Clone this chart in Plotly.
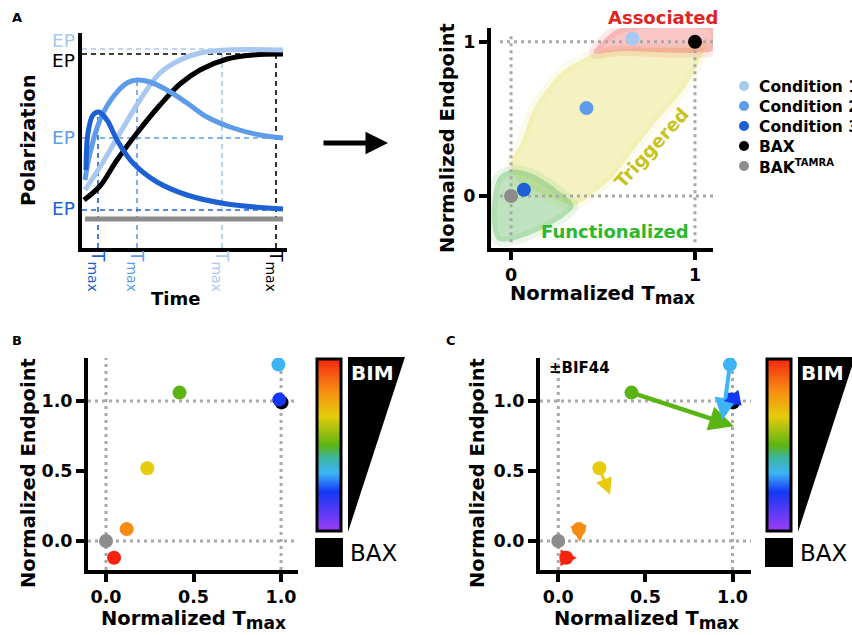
import plotly.graph_objects as go

W, H = 852, 635
FONT = "DejaVu Sans, Liberation Sans, Arial, sans-serif"


def px(x):
    return x / W


def py(y):
    return 1 - y / H


# ---------------- Panel A (left): schematic kinetics ----------------
time_bax = [2, 18, 35, 55, 78, 98, 118, 145, 171, 201]
pol_bax = [48, 62, 88, 115, 143, 164, 178, 189, 193, 194]
time_c1 = [3, 18, 38, 58, 78, 98, 118, 145, 201]
pol_c1 = [58, 81, 115, 148, 175, 188, 195, 198, 198]
time_c2 = [3, 8, 18, 31, 45, 55, 68, 85, 105, 125, 151, 178, 201]
pol_c2 = [68, 95, 128, 151, 165, 168, 166, 158, 145, 131, 120, 113, 110]
time_c3 = [4, 6, 11, 17, 25, 35, 51, 75, 105, 145, 201]
pol_c3 = [78, 115, 133, 136, 128, 108, 85, 66, 53, 44, 39]
time_bak = [3, 201]
pol_bak = [29, 29]

# endpoint (EP) level, Tmax time and peak height for dashed guides
guide_names = ["c1", "bax", "c2", "c3"]
guide_ep = [199, 194, 110, 38]
guide_tmax = [140, 194, 55, 16]
guide_peak = [199, 194, 168, 136]
guide_end = [201, 194, 201, 201]

COL_C1 = "#a8c8f0"
COL_C2 = "#5e9cea"
COL_C3 = "#1c60d4"
COL_BAX = "#000000"
COL_BAK = "#8c8c8c"
guide_colors = [COL_C1, COL_BAX, COL_C2, COL_C3]

# ---------------- Panel A (right): normalized summary ----------------
cond_names = ["Condition 1", "Condition 2", "Condition 3", "BAX", "BAK<sup>TAMRA</sup>"]
cond_tmax = [0.66, 0.41, 0.07, 1.0, 0.0]
cond_ep = [1.02, 0.57, 0.04, 1.0, 0.0]
cond_colors = [COL_C1, COL_C2, COL_C3, COL_BAX, COL_BAK]

# schematic regions (normalized Tmax, normalized endpoint)
assoc_x = [0.45, 0.52, 0.6, 1.1, 1.1, 1.0, 0.6]
assoc_y = [0.93, 1.03, 1.09, 1.09, 0.95, 0.93, 0.94]
trig_x = [0.0, 0.06, 0.12, 0.2, 0.27, 0.36, 0.45, 0.6, 0.8, 1.0, 1.07, 1.04, 0.98, 0.9, 0.8,
          0.68, 0.55, 0.45, 0.34, 0.2, 0.05]
trig_y = [0.2, 0.36, 0.56, 0.7, 0.8, 0.87, 0.92, 0.95, 0.96, 0.97, 1.0, 0.92, 0.77, 0.63, 0.5,
          0.32, 0.12, 0.02, -0.06, 0.0, 0.08]
func_x = [-0.07, -0.07, 0.02, 0.10, 0.18, 0.25, 0.34]
func_y = [-0.29, 0.12, 0.17, 0.15, 0.10, 0.04, -0.07]

# ---------------- Panels B and C: BIM titration ----------------
bim_tmax = [0.046, 0.118, 0.236, 0.42, 0.985, 0.99]
bim_ep = [-0.12, 0.085, 0.52, 1.06, 1.26, 1.01]
bim_level = [1.0, 0.81, 0.66, 0.49, 0.33, 0.22]
bim_colors = ["#f5230f", "#f78c12", "#e6cc0a", "#5ab414", "#3cb4f5", "#1437f5"]
bax_tmax, bax_ep = [1.003], [0.99]
bak_tmax, bak_ep = [0.0], [0.0]

# with BIF44 (panel C): arrow end points for each BIM concentration
bif_tmax = [0.107, 0.125, 0.297, 1.008, 0.943, 0.95]
bif_ep = [-0.121, -0.007, 0.33, 0.82, 0.864, 1.0]
bif_width = [3, 3, 3, 4.5, 4, 3]

rainbow = [[0.0, "#9a3cf5"], [0.22, "#1437f5"], [0.33, "#3cb4f5"], [0.42, "#3cb4a0"],
           [0.49, "#5ab414"], [0.66, "#e6cc0a"], [0.81, "#f78c12"], [1.0, "#f5230f"]]

fig = go.Figure()

# ---- Panel A left traces ----
for i, n in enumerate(guide_names):
    c = guide_colors[i]
    fig.add_trace(go.Scatter(x=[0, guide_end[i]], y=[guide_ep[i], guide_ep[i]], mode="lines",
                             line=dict(color=c, width=1.6, dash="5px,4px"), xaxis="x", yaxis="y",
                             showlegend=False, hoverinfo="skip"))
    fig.add_trace(go.Scatter(x=[guide_tmax[i], guide_tmax[i]], y=[0, guide_peak[i]], mode="lines",
                             line=dict(color=c, width=1.6, dash="5px,4px"), xaxis="x", yaxis="y",
                             showlegend=False, hoverinfo="skip"))

for tx, ty, c in [(time_bak, pol_bak, COL_BAK), (time_bax, pol_bax, COL_BAX),
                  (time_c1, pol_c1, COL_C1), (time_c2, pol_c2, COL_C2), (time_c3, pol_c3, COL_C3)]:
    fig.add_trace(go.Scatter(x=tx, y=ty, mode="lines", line=dict(color=c, width=5, shape="spline",
                                                                  smoothing=1.0),
                             xaxis="x", yaxis="y", showlegend=False, hoverinfo="skip"))

# ---- Panel A right regions ----
for rx, ry, fillc, edgec in [(trig_x, trig_y, "rgba(232,226,120,0.45)", "rgba(232,226,120,0.15)"),
                             (func_x, func_y, "rgba(110,192,110,0.45)", "rgba(110,192,110,0.15)"),
                             (assoc_x, assoc_y, "rgba(240,110,110,0.40)", "rgba(240,110,110,0.15)")]:
    fig.add_trace(go.Scatter(x=rx + [rx[0]], y=ry + [ry[0]], mode="lines", fill="toself",
                             fillcolor=fillc, line=dict(color=edgec, width=10, shape="spline"),
                             xaxis="x2", yaxis="y2", showlegend=False, hoverinfo="skip"))

# dotted reference lines at 0 and 1 (panel A right, drawn over the regions)
DOT = dict(color="#a9a9a9", width=3, dash="3px,4px")
for v in (0, 1):
    fig.add_trace(go.Scatter(x=[v, v], y=[-0.3, 1.06], mode="lines", line=DOT, xaxis="x2",
                             yaxis="y2", showlegend=False, hoverinfo="skip"))
    fig.add_trace(go.Scatter(x=[-0.06, 1.1], y=[v, v], mode="lines", line=DOT, xaxis="x2",
                             yaxis="y2", showlegend=False, hoverinfo="skip"))

for i, n in enumerate(cond_names):
    fig.add_trace(go.Scatter(x=[cond_tmax[i]], y=[cond_ep[i]], mode="markers", name=n,
                             marker=dict(color=cond_colors[i], size=14), xaxis="x2", yaxis="y2",
                             showlegend=False))

# ---- Panels B and C points ----
for xa, ya, show_x, show_y in [("x3", "y3", 315, 444.5), ("x4", "y4", 765, 444.5)]:
    fig.add_trace(go.Scatter(x=bak_tmax, y=bak_ep, mode="markers", marker=dict(color=COL_BAK, size=14),
                             xaxis=xa, yaxis=ya, showlegend=False))
    fig.add_trace(go.Scatter(x=bax_tmax, y=bax_ep, mode="markers", marker=dict(color=COL_BAX, size=14),
                             xaxis=xa, yaxis=ya, showlegend=False))
    fig.add_trace(go.Scatter(
        x=bim_tmax, y=bim_ep, mode="markers", xaxis=xa, yaxis=ya, showlegend=False,
        marker=dict(color=bim_level, colorscale=rainbow, cmin=0, cmax=1, size=14,
                    showscale=True,
                    colorbar=dict(thickness=24, len=172, lenmode="pixels", x=px(show_x + 1.5),
                                  xanchor="left", xpad=0, y=py(show_y), yanchor="middle", ypad=0,
                                  outlinewidth=3, outlinecolor="black", showticklabels=False,
                                  ticks=""))))

annotations = []
shapes = []

# arrows for panel C
for i in range(len(bim_tmax)):
    annotations.append(dict(x=bif_tmax[i], y=bif_ep[i], ax=bim_tmax[i], ay=bim_ep[i],
                            xref="x4", yref="y4", axref="x4", ayref="y4", text="",
                            showarrow=True, arrowhead=2, arrowsize=1.1, arrowwidth=bif_width[i],
                            arrowcolor=bim_colors[i], standoff=0, startstandoff=0))


def txt(x, y, s, size, color="black", bold=True, angle=0, xanchor="center", yanchor="middle"):
    annotations.append(dict(x=px(x), y=py(y), xref="paper", yref="paper", text=s, showarrow=False,
                            textangle=angle, xanchor=xanchor, yanchor=yanchor,
                            font=dict(family=FONT, size=size, color=color,
                                      weight=700 if bold else 400)))


TMAX = "Normalized T<sub><span style='font-size:17px'>max</span></sub>"

# panel letters
txt(17, 17, "A", 13)
txt(17, 340, "B", 13)
txt(451, 340, "C", 13)

# Panel A left labels
txt(77, 40, "EP", 18.5, COL_C1, bold=False, xanchor="right")
txt(77, 61, "EP", 18.5, COL_BAX, bold=False, xanchor="right")
txt(77, 138, "EP", 18.5, COL_C2, bold=False, xanchor="right")
txt(77, 208, "EP", 18.5, COL_C3, bold=False, xanchor="right")
for xp, c in [(96, COL_C3), (135, COL_C2), (220, COL_C1), (274, COL_BAX)]:
    txt(xp, 271, "T<sub><span style='font-size:14px'>max</span></sub>", 17, c, bold=False, angle=90)
txt(175, 298, "Time", 18)
txt(28, 140, "Polarization", 19.5, angle=-90)

# big arrow between panels
annotations.append(dict(x=px(388), y=py(143), ax=-66, ay=0, xref="paper", yref="paper",
                        axref="pixel", ayref="pixel", text="", showarrow=True, arrowhead=2,
                        arrowsize=0.9, arrowwidth=5, arrowcolor="black"))

# Panel A right labels
txt(663, 17, "Associated", 18, "#e02424")
txt(652, 148, "Triggered", 18.5, "#c9c21c", angle=-48)
txt(615, 231, "Functionalized", 18, "#2cb82c")
txt(448, 138, "Normalized Endpoint", 19.5, angle=-90)
txt(602, 295, TMAX, 19.5)

# manual legend for panel A right
for i, n in enumerate(cond_names):
    yc = 86 + 20 * i
    shapes.append(dict(type="circle", xref="paper", yref="paper", x0=px(739), x1=px(749),
                       y0=py(yc + 5), y1=py(yc - 5), fillcolor=cond_colors[i], line=dict(width=0)))
    txt(757, yc + 1, n.replace("<sup>", "<sup><span style='font-size:10px'>").replace(
        "</sup>", "</span></sup>"), 15.5, xanchor="left")

# Panels B & C labels
txt(28, 473, "Normalized Endpoint", 19.5, angle=-90)
txt(193, 620, TMAX, 19.5)
txt(477, 473, "Normalized Endpoint", 19.5, angle=-90)
txt(646, 620, TMAX, 19.5)
txt(547, 368, "±BIF44", 15, xanchor="left")

# BIM wedge + BAX box legends
for x0 in (348, 798):
    shapes.append(dict(type="path", xref="paper", yref="paper", fillcolor="black", line=dict(width=0),
                       path="M %f %f L %f %f L %f %f Z" % (px(x0), py(357), px(x0 + 57), py(357),
                                                           px(x0), py(532))))
    txt(x0 + 24, 373, "BIM", 20, "white")
    txt(x0, 553, "BAX", 23, bold=False, xanchor="left")
for x0 in (315, 765):
    shapes.append(dict(type="rect", xref="paper", yref="paper", x0=px(x0), x1=px(x0 + 28),
                       y0=py(567), y1=py(538), fillcolor="black", line=dict(width=0)))

# dotted reference lines at 0 and 1 (panels B and C)
for v in (0, 1):
    for xa, ya in (("x3", "y3"), ("x4", "y4")):
        shapes.append(dict(type="line", xref=xa, yref=ya + " domain", x0=v, x1=v, y0=0, y1=1,
                           line=DOT, layer="below"))
        shapes.append(dict(type="line", xref=xa + " domain", yref=ya, x0=0, x1=1, y0=v, y1=v,
                           line=DOT, layer="below"))

TICKFONT = dict(family=FONT, size=17.5, color="black", weight=700)


def axis(domain, rng, tickvals=None, ticktext=None, anchor=None):
    d = dict(domain=domain, range=rng, showgrid=False, zeroline=False, showline=True,
             linecolor="black", linewidth=4, anchor=anchor, fixedrange=True)
    if tickvals is None:
        d.update(showticklabels=False, ticks="")
    else:
        d.update(tickvals=tickvals, ticktext=ticktext, ticks="outside", ticklen=8, tickwidth=4,
                 tickcolor="black", tickfont=TICKFONT)
    return d


fig.update_layout(
    width=W, height=H, autosize=False,
    margin=dict(l=0, r=0, t=0, b=0, pad=0, autoexpand=False),
    paper_bgcolor="white", plot_bgcolor="rgba(0,0,0,0)",
    font=dict(family=FONT),
    xaxis=axis([px(82), px(287)], [0, 205], anchor="y"),
    yaxis=axis([py(248), py(33)], [0, 215], anchor="x"),
    xaxis2=axis([px(491), px(713)], [-0.109, 1.098], [0, 1], ["0", "1"], anchor="y2"),
    yaxis2=axis([py(248), py(28)], [-0.338, 1.09], [0, 1], ["0", "1"], anchor="x2"),
    xaxis3=axis([px(88), px(298)], [-0.103, 1.097], [0, 0.5, 1], ["0.0", "0.5", "1.0"], anchor="y3"),
    yaxis3=axis([py(570), py(358)], [-0.207, 1.307], [0, 0.5, 1], ["0.0", "0.5", "1.0"], anchor="x3"),
    xaxis4=axis([px(540), px(751)], [-0.105, 1.106], [0, 0.5, 1], ["0.0", "0.5", "1.0"], anchor="y4"),
    yaxis4=axis([py(570), py(358)], [-0.207, 1.307], [0, 0.5, 1], ["0.0", "0.5", "1.0"], anchor="x4"),
    annotations=annotations,
    shapes=shapes,
    showlegend=False,
)

fig.write_html("out.html", config={"displayModeBar": False},
               post_script="document.body.style.margin='0px';document.body.style.overflow='hidden';")
